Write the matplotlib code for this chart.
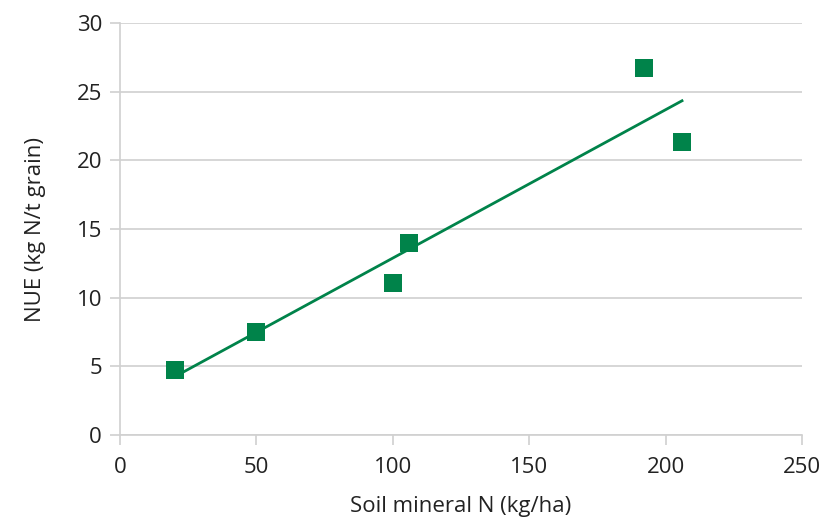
import numpy as np
import matplotlib.pyplot as plt

# Soil mineral N vs nitrogen use per tonne of grain
soil_n = [20, 50, 100, 106, 192, 206]
nue = [4.7, 7.5, 11.1, 14.0, 26.7, 21.3]
x_ticks = [0, 50, 100, 150, 200, 250]
y_ticks = [0, 5, 10, 15, 20, 25, 30]

green = "#00834a"
grey = "#d0d0d0"

plt.rcParams['font.family'] = ['Open Sans', 'DejaVu Sans']

fig = plt.figure(figsize=(8.26, 5.19), dpi=100)
ax = fig.add_axes([0.1453, 0.1618, 0.971 - 0.1453, 0.9557 - 0.1618])

# linear trendline across the data range
slope, intercept = np.polyfit(soil_n, nue, 1)
xs = np.array([min(soil_n), max(soil_n)])
ax.plot(xs, slope * xs + intercept, color=green, lw=2, zorder=2)

ax.scatter(soil_n, nue, marker='s', s=165, color=green, linewidths=0, zorder=3)

ax.set_xlim(0, 250)
ax.set_ylim(0, 30)
ax.set_xticks(x_ticks)
ax.set_yticks(y_ticks)
ax.yaxis.grid(True, color=grey, lw=1.2)
ax.set_axisbelow(True)

for side in ['top', 'right']:
    ax.spines[side].set_visible(False)
for side in ['left', 'bottom']:
    ax.spines[side].set_color(grey)
    ax.spines[side].set_linewidth(1.2)

ax.tick_params(axis='both', colors=grey, length=7, width=1.2,
               labelcolor='#222222', labelsize=16)
ax.tick_params(axis='x', pad=9)
ax.tick_params(axis='y', pad=6)

ax.set_xlabel("Soil mineral N (kg/ha)", fontsize=16, color='#222222', labelpad=13)
ax.set_ylabel("NUE (kg N/t grain)", fontsize=16, color='#222222', labelpad=22)

fig.savefig("out.png", dpi=100)
